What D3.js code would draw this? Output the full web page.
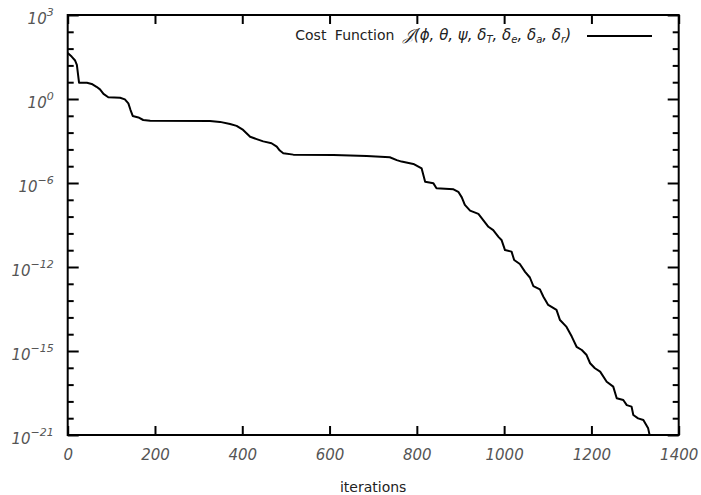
<!DOCTYPE html>
<html>
<head>
<meta charset="utf-8">
<script src="https://cdn.jsdelivr.net/npm/d3@7"></script>
<style>
  body { margin: 0; background: #fff; }
  svg text { font-family: "DejaVu Sans", "Noto Sans", sans-serif; }
</style>
</head>
<body>
<svg id="chart" width="701" height="495"></svg>
<script>
// Optimisation history: cost value at each iteration (log axis)
const iterations = [
  0, 9, 17, 21, 26, 44, 55, 66, 74, 82, 93, 120, 131, 139, 144, 149, 162, 173, 189,
  326, 349, 372, 387, 402, 418, 433, 448, 467, 479, 486, 494, 517, 609, 685, 738,
  754, 765, 792, 811, 819, 838, 845, 884, 895, 903, 910, 922, 941, 949, 964, 975,
  987, 994, 1002, 1017, 1023, 1036, 1048, 1059, 1067, 1082, 1090, 1101, 1120, 1128,
  1143, 1155, 1166, 1178, 1189, 1197, 1208, 1220, 1235, 1250, 1258, 1273, 1281,
  1292, 1296, 1307, 1319, 1330, 1336
];
const cost = [
  6.8, 4.2, 2.5, 1.4, 0.135, 0.135, 0.115, 0.079, 0.056, 0.031, 0.020, 0.0186, 0.015,
  0.0089, 0.0037, 0.0017, 0.0014, 1.0e-3, 9.1e-4,
  8.7e-4, 7.8e-4, 5.9e-4, 4.6e-4, 2.7e-4, 1.1e-4, 8.1e-5, 6.0e-5, 4.7e-5, 3.0e-5,
  1.8e-5, 1.26e-5, 1.05e-5, 1.0e-5, 8.7e-6, 7.4e-6,
  5.1e-6, 4.2e-6, 3.1e-6, 1.7e-6, 3.0e-7, 2.4e-7, 1.26e-7, 1.1e-7, 7.9e-8, 3.8e-8,
  1.4e-8, 6.6e-9, 4.3e-9, 2.4e-9, 7.9e-10, 5.1e-10,
  2.1e-10, 1.4e-10, 3.7e-11, 3.0e-11, 1.0e-11, 5.9e-12, 2.1e-12, 1.0e-12, 3.2e-13,
  2.1e-13, 7.9e-14, 2.7e-14, 1.4e-14, 3.7e-15,
  1.5e-15, 4.2e-16, 1.1e-16, 7.2e-17, 3.7e-17, 1.26e-17, 6.5e-18, 4.2e-18, 1.1e-18,
  5.8e-19, 1.26e-19, 1.0e-19, 5.1e-20,
  4.2e-20, 1.4e-20, 8.9e-21, 7.2e-21, 2.4e-21, 5.0e-22
];

const xTicks = [0, 200, 400, 600, 800, 1000, 1200, 1400];
// exponent text printed beside each major y tick, top to bottom
const yTickLabels = ["3", "0", "\u22126", "\u221212", "\u221215", "\u221221"];
const yMajorCount = 6;
const yMinorPerMajor = 5;
const xTitle = "iterations";
const legendName = "Cost Function";

const plot = { left: 67.7, right: 678.7, top: 15, bottom: 435 };

const svg = d3.select("#chart");

const x = d3.scaleLinear().domain([0, 1400]).range([plot.left, plot.right]);
const y = d3.scaleLog().domain([1e-21, 1e3]).range([plot.bottom, plot.top]);

// evenly spaced decades on the log axis
const [lo, hi] = y.domain().map(Math.log10);
const majorStep = (hi - lo) / (yMajorCount - 1);
const yMajor = d3.range(yMajorCount).map(i => Math.pow(10, hi - i * majorStep));
const yMinor = d3.range((yMajorCount - 1) * yMinorPerMajor + 1)
  .filter(j => j % yMinorPerMajor !== 0)
  .map(j => Math.pow(10, hi - j * majorStep / yMinorPerMajor));

function styleAxis(g) {
  g.select(".domain").remove();
  g.selectAll(".tick line").attr("stroke", "#000").attr("stroke-width", 2);
}

// bottom axis with labels
svg.append("g")
  .attr("transform", `translate(0,${plot.bottom})`)
  .call(d3.axisBottom(x).tickValues(xTicks).tickSize(-9).tickPadding(14)
    .tickFormat(d3.format("d")))
  .call(styleAxis)
  .call(g => g.selectAll("text")
    .attr("fill", "#555").attr("font-size", 15).attr("font-style", "italic"));

// top mirror ticks
svg.append("g")
  .attr("transform", `translate(0,${plot.top})`)
  .call(d3.axisTop(x).tickValues(xTicks).tickSize(-9).tickFormat(""))
  .call(styleAxis);

// left axis: major ticks with power-of-ten labels, minor ticks
const leftMajor = svg.append("g")
  .attr("transform", `translate(${plot.left},0)`)
  .call(d3.axisLeft(y).tickValues(yMajor).tickSize(-11).tickPadding(14).tickFormat(""))
  .call(styleAxis);

leftMajor.selectAll(".tick text")
  .attr("fill", "#555")
  .attr("font-size", 15)
  .attr("font-style", "italic")
  .attr("dy", "0.55em")
  .each(function(d, i) {
    const t = d3.select(this);
    t.text(null);
    t.append("tspan").text("10");
    t.append("tspan").attr("font-size", 11).attr("dy", "-0.7em").text(yTickLabels[i]);
  });

svg.append("g")
  .attr("transform", `translate(${plot.left},0)`)
  .call(d3.axisLeft(y).tickValues(yMinor).tickSize(-6).tickFormat(""))
  .call(styleAxis);

// right mirror ticks
svg.append("g")
  .attr("transform", `translate(${plot.right},0)`)
  .call(d3.axisRight(y).tickValues(yMajor).tickSize(-11).tickFormat(""))
  .call(styleAxis);
svg.append("g")
  .attr("transform", `translate(${plot.right},0)`)
  .call(d3.axisRight(y).tickValues(yMinor).tickSize(-6).tickFormat(""))
  .call(styleAxis);

// clip so the curve stops at the frame
svg.append("clipPath").attr("id", "plot-clip")
  .append("rect")
  .attr("x", plot.left).attr("y", plot.top)
  .attr("width", plot.right - plot.left).attr("height", plot.bottom - plot.top);

const series = iterations.map((it, i) => ({ it, c: cost[i] }));

svg.append("path")
  .datum(series)
  .attr("clip-path", "url(#plot-clip)")
  .attr("fill", "none")
  .attr("stroke", "#000")
  .attr("stroke-width", 2)
  .attr("stroke-linejoin", "round")
  .attr("d", d3.line().x(d => x(d.it)).y(d => y(d.c)));

// frame
svg.append("rect")
  .attr("x", plot.left).attr("y", plot.top)
  .attr("width", plot.right - plot.left).attr("height", plot.bottom - plot.top)
  .attr("fill", "none").attr("stroke", "#000").attr("stroke-width", 2);

// legend
const legend = svg.append("g");
const lt = legend.append("text")
  .attr("x", 571).attr("y", 40)
  .attr("text-anchor", "end")
  .attr("font-size", 14)
  .attr("fill", "#222");
lt.append("tspan").attr("word-spacing", 4).text(legendName + "  ");
lt.append("tspan").attr("font-style", "italic").attr("font-size", 16).text("\uD835\uDCA5");
lt.append("tspan").attr("font-style", "italic").attr("font-size", 15)
  .text("(\u03D5, \u03B8, \u03C8, \u03B4");
const subs = ["T", "e", "a", "r"];
subs.forEach((s, i) => {
  lt.append("tspan").attr("font-size", 10).attr("font-style", "italic").attr("dy", 3).text(s);
  lt.append("tspan").attr("font-style", "italic").attr("font-size", 15).attr("dy", -3)
    .text(i < subs.length - 1 ? ", \u03B4" : ")");
});
legend.append("line")
  .attr("x1", 587).attr("x2", 652).attr("y1", 36).attr("y2", 36)
  .attr("stroke", "#000").attr("stroke-width", 2);

// x-axis title
svg.append("text")
  .attr("x", (plot.left + plot.right) / 2).attr("y", 492)
  .attr("text-anchor", "middle")
  .attr("font-size", 14)
  .attr("fill", "#222")
  .text(xTitle);
</script>
</body>
</html>
